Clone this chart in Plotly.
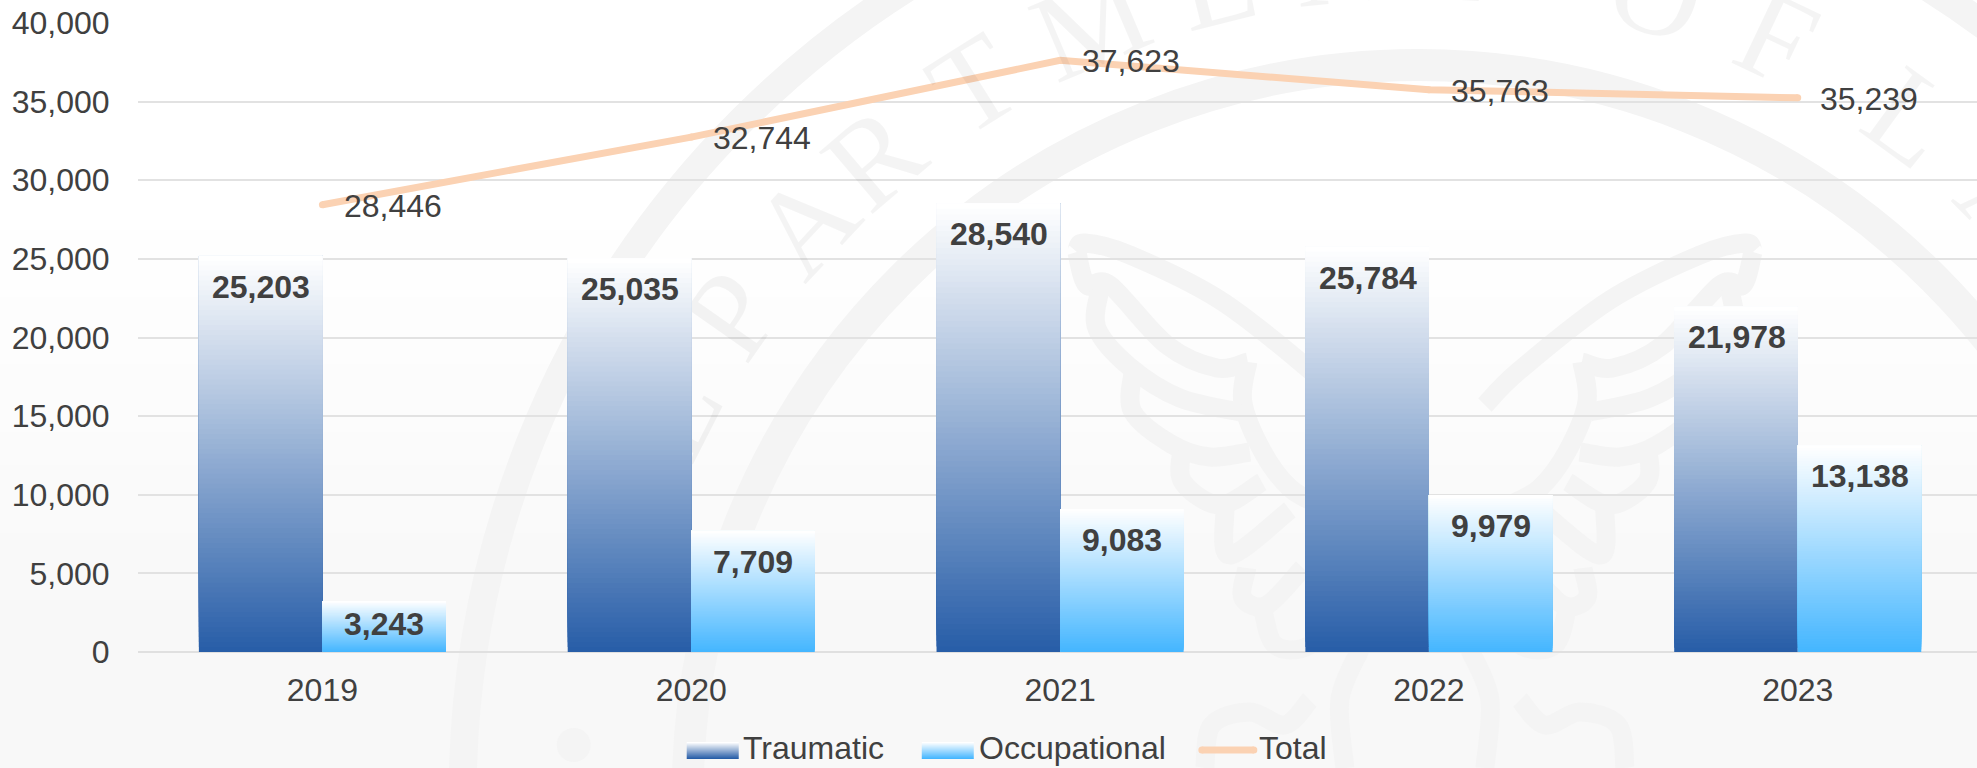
import math
import plotly.graph_objects as go

# ---- data ----
years = ["2019", "2020", "2021", "2022", "2023"]
traumatic = [25203, 25035, 28540, 25784, 21978]
occupational = [3243, 7709, 9083, 9979, 13138]
total = [28446, 32744, 37623, 35763, 35239]
y_ticks = [0, 5000, 10000, 15000, 20000, 25000, 30000, 35000, 40000]

# ---- style / layout constants ----
W, H = 1977, 768
L, T, B = 138.4, 23, 652
CAT_PX = 368.75
TEXT = "#404040"
FONT = "Liberation Sans, Arial, sans-serif"
FS = 32
GRID = "#e2e2e2"
LINE_C = "#FBD2B3"
DARK = (40, 94, 168)
LIGHT = (69, 182, 255)
WM = "#f4f4f4"
WM_TEXT = "rgba(0,0,0,0.045)"
SEAL_FONT = dict(family="Liberation Serif, serif", size=125, color=WM_TEXT)
N = 80
BAR_W = 123.5 / CAT_PX
PX_PER_UNIT = (B - T) / 40000


def px(x):
    return (x - L) / (W - L)


def py(y):
    return (B - y) / (B - T)


def mix(c, f):
    """f=0 -> c, f=1 -> white"""
    return "rgb(%d,%d,%d)" % tuple(round(v + (255 - v) * f) for v in c)


def smooth(points, mirror=None):
    pts = [((2 * mirror - x) if mirror else x, y) for x, y in points]
    d = "M%.5f,%.5f" % (px(pts[0][0]), py(pts[0][1]))
    for i in range(len(pts) - 1):
        p0 = pts[max(i - 1, 0)]
        p1 = pts[i]
        p2 = pts[i + 1]
        p3 = pts[min(i + 2, len(pts) - 1)]
        c1 = (p1[0] + (p2[0] - p0[0]) / 6, p1[1] + (p2[1] - p0[1]) / 6)
        c2 = (p2[0] - (p3[0] - p1[0]) / 6, p2[1] - (p3[1] - p1[1]) / 6)
        d += "C%.5f,%.5f %.5f,%.5f %.5f,%.5f" % (
            px(c1[0]), py(c1[1]), px(c2[0]), py(c2[1]), px(p2[0]), py(p2[1]))
    return d


fig = go.Figure()
xs = list(range(len(years)))
ann = []


def text(x, y, s, font=None, **kw):
    ann.append(dict(x=x, y=y, text=s, showarrow=False,
                    font=font or dict(family=FONT, size=FS, color=TEXT), **kw))


# watermark lettering: the low letters are empty bars carrying rotated text, drawn first so the
# data bars cover them; the high letters clear the bars and are faint annotations
CX, CY = 1418, 795
R_T = 838
low_letters = [("D", -71), ("E", -63), ("P", -55), ("A", -47)]
high_letters = [("R", -40.5), ("T", -32), ("M", -23), ("E", -14), ("N", -5.5), ("T", 3),
                ("O", 16.6), ("F", 25.4), ("L", 36), ("A", 45), ("B", 53)]
for ch, a in low_letters:
    t = math.radians(a)
    lx = (CX + R_T * math.sin(t) - L) / CAT_PX - 0.5
    ly = (B - (CY - R_T * math.cos(t))) / PX_PER_UNIT
    fig.add_trace(go.Bar(x=[lx], y=[16000], base=[ly - 8000], width=0.6,
                         marker=dict(color="rgba(0,0,0,0)", line=dict(width=0)),
                         text=[ch], textposition="inside", insidetextanchor="middle",
                         textangle=a, constraintext="none", cliponaxis=False,
                         textfont=SEAL_FONT, hoverinfo="skip", showlegend=False))
for ch, a in high_letters:
    t = math.radians(a)
    text(px(CX + R_T * math.sin(t)), py(CY - R_T * math.cos(t)), ch, font=SEAL_FONT,
         xref="paper", yref="paper", xanchor="center", yanchor="middle", textangle=a)


def gradient_bars(values, color, offset, name):
    bx, by, bb, bc = [], [], [], []
    for i in range(N):
        for x, v in zip(xs, values):
            bx.append(x)
            by.append(v * (N - i) / N)
            bb.append(v * i / N)
            bc.append(mix(color, i / (N - 1)))
    fig.add_trace(go.Bar(x=bx, y=by, base=bb, width=BAR_W, offset=offset, name=name,
                         marker=dict(color=bc, line=dict(width=0)),
                         hoverinfo="skip", showlegend=False))


gradient_bars(traumatic, DARK, -BAR_W, "Traumatic")
gradient_bars(occupational, LIGHT, 0, "Occupational")

fig.add_trace(go.Scatter(x=xs, y=total, name="Total", mode="lines+markers",
                         line=dict(color=LINE_C, width=7),
                         marker=dict(color=LINE_C, size=7),
                         hoverinfo="skip", showlegend=False))

# total labels
for x, v in zip(xs, total):
    text(x, v, f"{v:,}", xref="x", yref="y", xanchor="left", yanchor="middle", xshift=20, yshift=-1)

# bar labels
for x, v in zip(xs, traumatic):
    text(x, v, f"<b>{v:,}</b>", xref="x", yref="y", xanchor="center", yanchor="middle",
         xshift=-61, yshift=-min(31, v * PX_PER_UNIT / 2 - 2))
for x, v in zip(xs, occupational):
    text(x, v, f"<b>{v:,}</b>", xref="x", yref="y", xanchor="center", yanchor="middle",
         xshift=62, yshift=-min(31, v * PX_PER_UNIT / 2 - 2))

shapes = []

# background gradient
for i in range(16):
    y0 = 230 + i * (768 - 230) / 16
    y1 = y0 + (768 - 230) / 16 + 1
    g = round(255 - 7 * min(1, (i + 1) / 12))
    shapes.append(dict(type="rect", xref="paper", yref="paper", layer="below",
                       x0=px(0), x1=px(W), y0=py(y0), y1=py(y1), line_width=0,
                       fillcolor=f"rgb({g},{g},{g})"))

# watermark seal
for r, w in ((955, 28), (730, 32)):
    shapes.append(dict(type="circle", xref="paper", yref="paper", layer="below",
                       x0=px(CX - r), x1=px(CX + r), y0=py(CY + r), y1=py(CY - r),
                       line=dict(color=WM, width=w), fillcolor="rgba(0,0,0,0)"))
shapes.append(dict(type="circle", xref="paper", yref="paper", layer="below",
                   x0=px(557), x1=px(591), y0=py(762), y1=py(728),
                   line_width=0, fillcolor=WM))

wing_curves = [
    [(1077, 252), (1085, 243), (1130, 255), (1220, 300), (1310, 370), (1345, 405)],
    [(1077, 252), (1087, 285), (1110, 285), (1167, 345), (1217, 368), (1248, 362)],
    [(1248, 362), (1243, 402), (1263, 452), (1290, 488), (1320, 505)],
    [(1100, 290), (1097, 328), (1130, 367), (1180, 398), (1240, 412)],
    [(1133, 373), (1133, 412), (1173, 445), (1210, 457), (1250, 452)],
    [(1182, 450), (1183, 482), (1220, 505), (1262, 482)],
    [(1225, 510), (1230, 555), (1290, 510)],
    [(1247, 568), (1243, 598), (1267, 605), (1303, 568)],
    [(1262, 605), (1275, 645), (1310, 645), (1340, 605)],
]
talons = [
    [(1205, 768), (1212, 725), (1250, 712), (1285, 725), (1310, 700)],
    [(1360, 650), (1340, 700), (1345, 768)],
]
for curve in wing_curves + talons:
    for mirror in (None, 1415):
        shapes.append(dict(type="path", xref="paper", yref="paper", layer="below",
                           path=smooth(curve, mirror),
                           line=dict(color=WM, width=19), fillcolor="rgba(0,0,0,0)"))

# legend
LEG_Y = 750
for (x0, x1, col) in ((687, 739, DARK), (922, 974, LIGHT)):
    for i in range(17):
        shapes.append(dict(type="rect", xref="paper", yref="paper", layer="above",
                           x0=px(x0), x1=px(x1), y0=py(759 - i - 1), y1=py(759 - i),
                           line_width=0, fillcolor=mix(col, i / 16)))
shapes.append(dict(type="line", xref="paper", yref="paper", layer="above",
                   x0=px(1202), x1=px(1254), y0=py(LEG_Y), y1=py(LEG_Y),
                   line=dict(color=LINE_C, width=7)))
for xc in (1202, 1254):
    shapes.append(dict(type="circle", xref="paper", yref="paper", layer="above",
                       x0=px(xc - 3.5), x1=px(xc + 3.5), y0=py(LEG_Y + 3.5), y1=py(LEG_Y - 3.5),
                       line_width=0, fillcolor=LINE_C))
for lx, s in ((744, "Traumatic"), (980, "Occupational"), (1260, "Total")):
    text(px(lx), py(LEG_Y - 2), s, xref="paper", yref="paper", xanchor="left", yanchor="middle", xshift=-3)

fig.update_layout(
    width=W, height=H, barmode="overlay", showlegend=False,
    margin=dict(l=L, r=0, t=T, b=H - B, pad=0),
    paper_bgcolor="white", plot_bgcolor="rgba(0,0,0,0)",
    font=dict(family=FONT, size=FS, color=TEXT),
    annotations=ann, shapes=shapes,
    xaxis=dict(range=[-0.5, -0.5 + (W - L) / CAT_PX], tickmode="array", tickvals=xs, ticktext=years,
               showgrid=False, zeroline=False, showline=False, ticks="outside", ticklen=10,
               tickcolor="rgba(0,0,0,0)", tickfont=dict(family=FONT, size=FS, color=TEXT)),
    yaxis=dict(range=[0, 40000], tickmode="array", tickvals=y_ticks, tickformat=",",
               showgrid=True, gridcolor=GRID, gridwidth=2, zeroline=True, zerolinecolor="#e0e0e0",
               zerolinewidth=2, ticks="outside", ticklen=21, tickcolor="rgba(0,0,0,0)",
               tickfont=dict(family=FONT, size=FS, color=TEXT)),
)
fig.write_html("out.html", config=dict(displayModeBar=False),
               post_script="document.body.style.margin='0';document.documentElement.style.overflow='hidden';")
